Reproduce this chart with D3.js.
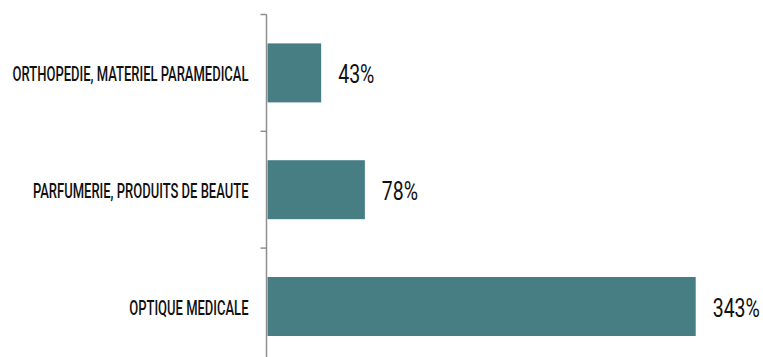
<!DOCTYPE html>
<html>
<head>
<meta charset="utf-8">
<script src="https://cdn.jsdelivr.net/npm/d3@7"></script>
<style>
  html, body { margin: 0; padding: 0; background: #fff; }
  svg { display: block; }
</style>
</head>
<body>
<div id="chart"></div>
<script>
var categories = ["ORTHOPEDIE, MATERIEL PARAMEDICAL", "PARFUMERIE, PRODUITS DE BEAUTE", "OPTIQUE MEDICALE"];
var values = [43, 78, 343];

var width = 763, height = 357;
var axisX = 266.5;

var svg = d3.select("#chart").append("svg")
    .attr("width", width)
    .attr("height", height);

// bands keep going below the window, the last tick is cut off like in the original
var y = d3.scaleBand()
    .domain(categories)
    .range([14.5, 14.5 + 116.8 * categories.length])
    .padding(0);

var x = d3.scaleLinear()
    .domain([0, 343])
    .range([axisX + 1, 695.7]);

var barH = y.bandwidth() * 0.505;

svg.selectAll("rect.bar")
    .data(values)
    .enter()
    .append("rect")
    .attr("class", "bar")
    .attr("x", x(0))
    .attr("y", function(d, i){ return y(categories[i]) + (y.bandwidth() - barH) / 2; })
    .attr("width", function(d){ return x(d) - x(0); })
    .attr("height", barH)
    .attr("fill", "#467e84");

// axis line + ticks at band edges
svg.append("line")
    .attr("x1", axisX).attr("x2", axisX)
    .attr("y1", y.range()[0]).attr("y2", height)
    .attr("stroke", "#8f8f8f")
    .attr("stroke-width", 1.5);

svg.selectAll("line.tick")
    .data(categories)
    .enter()
    .append("line")
    .attr("class", "tick")
    .attr("x1", axisX - 6).attr("x2", axisX)
    .attr("y1", function(d){ return y(d); })
    .attr("y2", function(d){ return y(d); })
    .attr("stroke", "#8f8f8f")
    .attr("stroke-width", 1.5);

// category labels (condensed caps)
var catLabels = svg.selectAll("text.cat")
    .data(categories)
    .enter()
    .append("text")
    .attr("class", "cat")
    .attr("x", axisX - 18)
    .attr("y", function(d){ return y(d) + y.bandwidth() / 2 + 8.3; })
    .attr("text-anchor", "end")
    .style("font-family", "Roboto, 'Liberation Sans', sans-serif")
    .style("font-weight", "500")
    .style("font-size", "20px")
    .style("fill", "#111")
    .text(function(d){ return d; });

catLabels.each(function(){
    var w = this.getComputedTextLength();
    d3.select(this).attr("textLength", w * 0.65).attr("lengthAdjust", "spacingAndGlyphs");
});

// value labels
var valLabels = svg.selectAll("text.val")
    .data(values)
    .enter()
    .append("text")
    .attr("class", "val")
    .attr("x", function(d){ return x(d) + 17; })
    .attr("y", function(d, i){ return y(categories[i]) + y.bandwidth() / 2 + 10.4; })
    .style("font-family", "Roboto, 'Liberation Sans', sans-serif")
    .style("font-size", "26px")
    .style("fill", "#111")
    .text(function(d){ return d + "%"; });

valLabels.each(function(){
    var w = this.getComputedTextLength();
    d3.select(this).attr("textLength", w * 0.75).attr("lengthAdjust", "spacingAndGlyphs");
});
</script>
</body>
</html>
